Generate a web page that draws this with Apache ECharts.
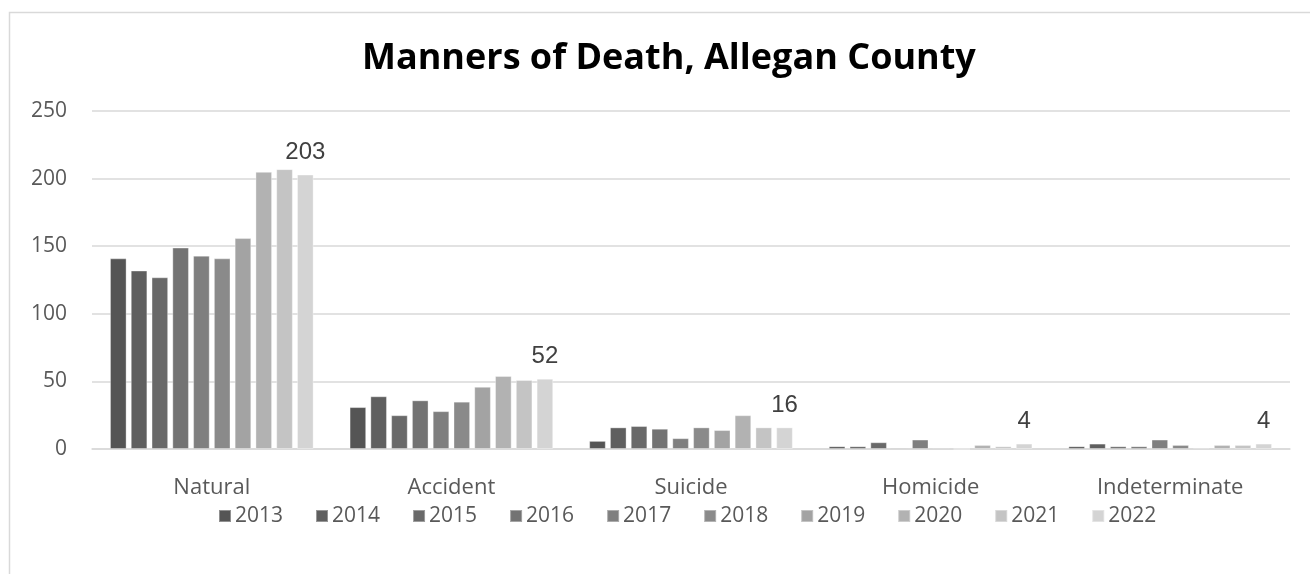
<!DOCTYPE html>
<html>
<head>
<meta charset="utf-8">
<script src="https://cdn.jsdelivr.net/npm/echarts@6/dist/echarts.min.js"></script>
<style>
html,body{margin:0;padding:0;background:#fff;}
#chart{width:1310px;height:574px;}
</style>
</head>
<body>
<div id="chart"></div>
<script>
const categories = ['Natural', 'Accident', 'Suicide', 'Homicide', 'Indeterminate'];
const years = ['2013','2014','2015','2016','2017','2018','2019','2020','2021','2022'];
const v2013 = [141, 31, 6, 2, 2];
const v2014 = [132, 39, 16, 2, 4];
const v2015 = [127, 25, 17, 5, 2];
const v2016 = [149, 36, 15, 1, 2];
const v2017 = [143, 28, 8, 7, 7];
const v2018 = [141, 35, 16, 1, 3];
const v2019 = [156, 46, 14, 0, 1];
const v2020 = [205, 54, 25, 3, 3];
const v2021 = [207, 51, 16, 2, 3];
const v2022 = [203, 52, 16, 4, 4];
const seriesValues = [v2013, v2014, v2015, v2016, v2017, v2018, v2019, v2020, v2021, v2022];
const colors = ['#555555','#5f5f5f','#696969','#737373','#7f7f7f','#8a8a8a','#a3a3a3','#b2b2b2','#c4c4c4','#d4d4d4'];
const yTicks = { min: 0, max: 250, interval: 50 };

const chart = echarts.init(document.getElementById('chart'), null, { renderer: 'canvas' });
const series = years.map((y, i) => ({
  name: y,
  type: 'bar',
  data: seriesValues[i],
  barGap: '25%',
  barCategoryGap: '15%',
  itemStyle: { color: colors[i], borderColor: 'rgba(255,255,255,0.35)', borderWidth: 1 },
  label: i === years.length - 1 ? {
    show: true, position: 'top', distance: 10,
    fontFamily: 'Liberation Sans, Arial, sans-serif', fontSize: 24, color: '#404040'
  } : { show: false }
}));

chart.setOption({
  backgroundColor: '#fff',
  animation: false,
  color: colors,
  graphic: [{
    type: 'rect', silent: true, z: -1,
    shape: { x: 9.5, y: 12.5, width: 1320, height: 600 },
    style: { fill: 'none', stroke: '#d9d9d9', lineWidth: 1.5 }
  }],
  title: {
    text: 'Manners of Death, Allegan County',
    left: 357, top: 36,
    textStyle: { fontFamily: 'Open Sans, sans-serif', fontWeight: 'bold', fontSize: 36, color: '#000' }
  },
  legend: {
    top: 500, left: 213,
    itemWidth: 12, itemHeight: 12, itemGap: 32,
    icon: 'rect',
    textStyle: { fontFamily: 'Open Sans, sans-serif', fontSize: 21, lineHeight: 22, color: '#595959', padding: [0,0,0,-1] },
    data: years
  },
  grid: { left: 92, right: 20, top: 111, bottom: 125 },
  xAxis: {
    type: 'category', data: categories,
    axisLine: { lineStyle: { color: '#d9d9d9', width: 1.5 } },
    axisTick: { show: false },
    axisLabel: { fontFamily: 'Open Sans, sans-serif', fontSize: 22, color: '#595959', margin: 28 }
  },
  yAxis: {
    type: 'value', min: yTicks.min, max: yTicks.max, interval: yTicks.interval,
    axisLine: { show: false }, axisTick: { show: false },
    splitLine: { lineStyle: { color: '#d9d9d9', width: 1.5 } },
    axisLabel: { fontFamily: 'Open Sans, sans-serif', fontSize: 21, color: '#595959', margin: 25 }
  },
  series: series
});
</script>
</body>
</html>
